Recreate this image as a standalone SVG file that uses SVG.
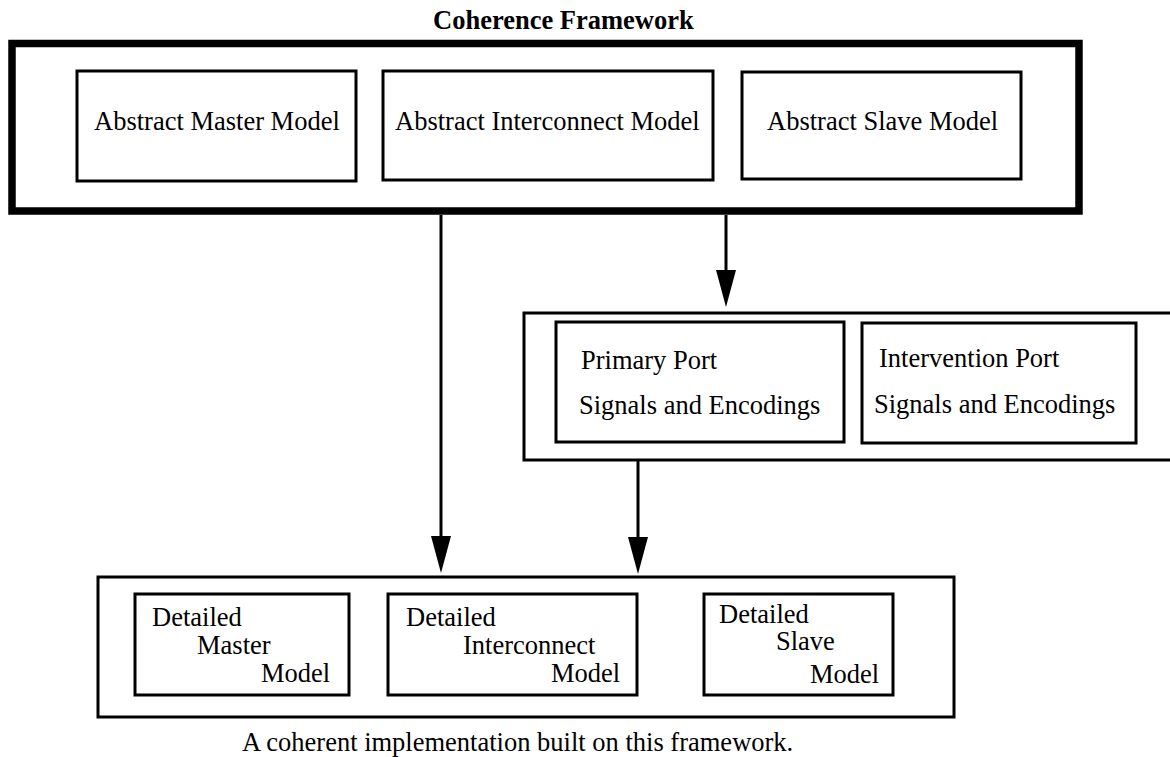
<svg xmlns="http://www.w3.org/2000/svg" width="1170" height="757" viewBox="0 0 1170 757">
  <style>
    .box { fill: none; stroke: #000; stroke-width: 3; }
    .frame { fill: none; stroke: #000; stroke-width: 7.5; }
    .lbl { font-family: "Liberation Serif", "Times New Roman", serif; font-size: 26.5px; fill: #000; }
    .title { font-family: "Liberation Serif", "Times New Roman", serif; font-size: 26.5px; font-weight: bold; fill: #000; }
    .wire { fill: none; stroke: #000; stroke-width: 3; }
  </style>
  <defs>
    <!-- solid triangular head; its base sits on the end of the line -->
    <marker id="head" viewBox="0 0 37 20" refX="0" refY="10" markerWidth="37" markerHeight="20" markerUnits="userSpaceOnUse" orient="auto">
      <path d="M0,0 L37,10 L0,20 Z" fill="#000"/>
    </marker>
  </defs>

  <rect width="1170" height="757" fill="#fff"/>

  <text class="title" x="433" y="29">Coherence Framework</text>

  <!-- abstract framework -->
  <g id="framework">
    <rect class="frame" x="12" y="43.5" width="1067" height="167.5"/>
  </g>
  <g id="abstract-master">
    <rect class="box" x="77" y="71" width="279" height="110"/>
    <text class="lbl" x="94" y="130">Abstract Master Model</text>
  </g>
  <g id="abstract-interconnect">
    <rect class="box" x="383" y="71" width="330" height="109"/>
    <text class="lbl" x="395" y="130">Abstract Interconnect Model</text>
  </g>
  <g id="abstract-slave">
    <rect class="box" x="742" y="72" width="279" height="107"/>
    <text class="lbl" x="767" y="130">Abstract Slave Model</text>
  </g>

  <!-- port signal definitions -->
  <g id="ports">
    <rect class="box" x="524" y="313" width="660" height="147"/>
  </g>
  <g id="primary-port">
    <rect class="box" x="556" y="322" width="288" height="120"/>
    <text class="lbl" x="581" y="369">Primary Port</text>
    <text class="lbl" x="579" y="414">Signals and Encodings</text>
  </g>
  <g id="intervention-port">
    <rect class="box" x="862" y="323" width="274" height="120"/>
    <text class="lbl" x="879" y="367">Intervention Port</text>
    <text class="lbl" x="874" y="413">Signals and Encodings</text>
  </g>

  <!-- implementation -->
  <g id="implementation">
    <rect class="box" x="98" y="577" width="856" height="140"/>
  </g>
  <g id="detailed-master">
    <rect class="box" x="135" y="594" width="214" height="101"/>
    <text class="lbl" x="152" y="626">Detailed</text>
    <text class="lbl" x="197" y="654">Master</text>
    <text class="lbl" x="261" y="682">Model</text>
  </g>
  <g id="detailed-interconnect">
    <rect class="box" x="388" y="594" width="249" height="101"/>
    <text class="lbl" x="406" y="626">Detailed</text>
    <text class="lbl" x="463" y="654">Interconnect</text>
    <text class="lbl" x="551" y="682">Model</text>
  </g>
  <g id="detailed-slave">
    <rect class="box" x="704" y="594" width="189" height="101"/>
    <text class="lbl" x="719" y="623">Detailed</text>
    <text class="lbl" x="776" y="650">Slave</text>
    <text class="lbl" x="810" y="683">Model</text>
  </g>

  <!-- connectors -->
  <g id="connectors">
    <line class="wire" x1="441" y1="215" x2="441" y2="536" marker-end="url(#head)"/>
    <line class="wire" x1="726" y1="215" x2="726" y2="270" marker-end="url(#head)"/>
    <line class="wire" x1="638" y1="461" x2="638" y2="537" marker-end="url(#head)"/>
  </g>

  <text class="lbl" x="242" y="751">A coherent implementation built on this framework.</text>
</svg>
